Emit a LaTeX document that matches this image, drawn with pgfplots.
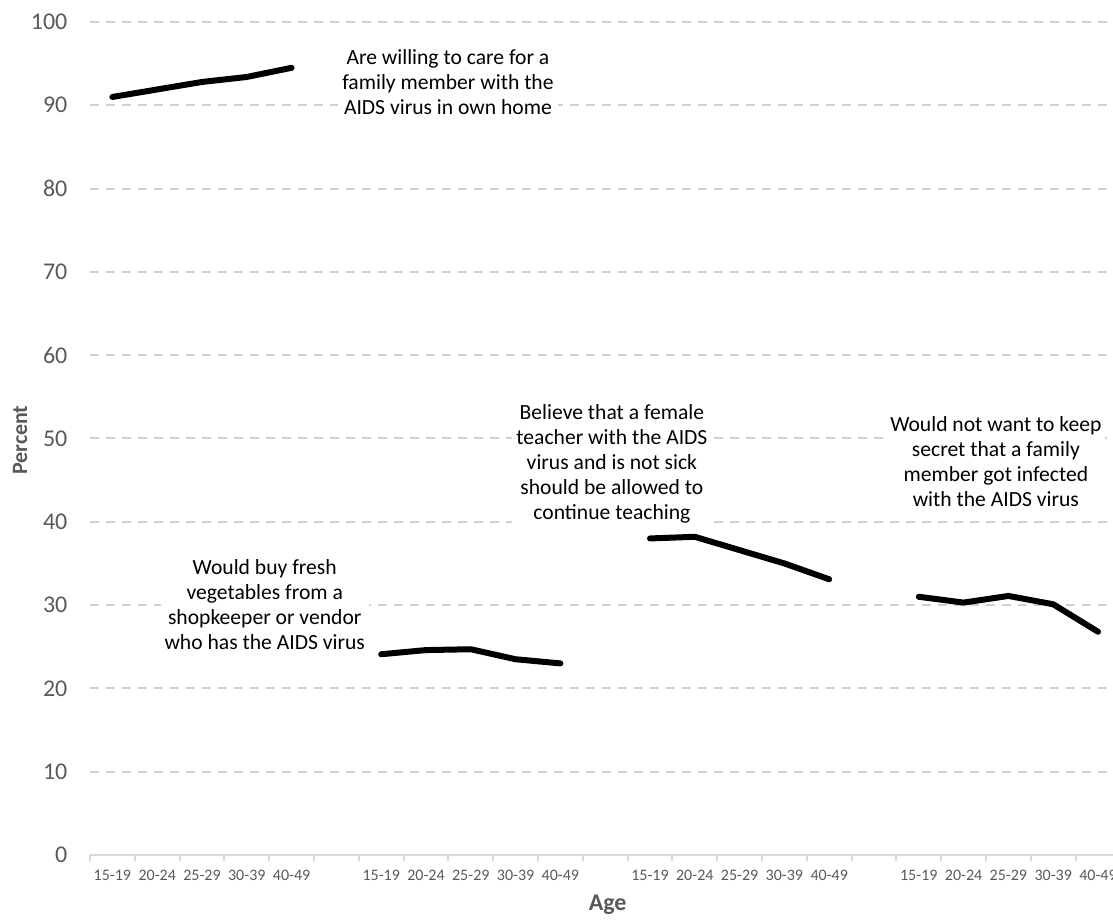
\documentclass[border=0pt]{standalone}
\usepackage{pgfplots}
\pgfplotsset{compat=1.18}
\usepackage{fontspec}
\setmainfont{Carlito}
\definecolor{lbl}{HTML}{595959}
\definecolor{gridc}{HTML}{D0D0D0}
\definecolor{axc}{HTML}{D9D9D9}
\begin{document}
\begin{tikzpicture}
\tikzset{dl/.style={black, line width=3pt, line join=round, line cap=round, mark=none}}
\begin{axis}[
  at={(0,0)}, anchor=south west,
  scale only axis,
  width=511.5pt, height=416.5pt,
  xmin=-0.5, xmax=22.335,
  ymin=0, ymax=100,
  axis lines*=left,
  y axis line style={draw=none},
  x axis line style={draw=axc, line width=1pt},
  ytick={0,10,...,100},
  ymajorgrids,
  grid style={draw=gridc, line width=1pt, dash pattern=on 4.5pt off 3.5pt},
  ytick style={draw=none},
  yticklabel style={font=\fontsize{12}{13}\selectfont, text=lbl, xshift=-3.5pt},
  /pgf/number format/assume math mode=true,
  xtick={0,...,22},
  xticklabels={15-19,20-24,25-29,30-39,40-49,,15-19,20-24,25-29,30-39,40-49,,15-19,20-24,25-29,30-39,40-49,,15-19,20-24,25-29,30-39,40-49},
  xticklabel style={font=\fontsize{8}{9}\selectfont, text=lbl, yshift=0pt},
  major x tick style={draw=none},
  minor xtick={-0.5,0.5,...,22.5},
  minor x tick style={draw=axc, line width=1pt},
  tick align=outside,
  minor tick length=3pt,
  xlabel={Age},
  ylabel={Percent},
  xlabel style={at={(axis description cs:0.506,-0.060)}, anchor=center, font=\fontsize{12}{14}\selectfont\bfseries, text=lbl},
  ylabel style={at={(axis description cs:-0.0684,0.498)}, anchor=center, font=\fontsize{11}{13}\selectfont\bfseries, text=lbl},
]
\addplot[dl] coordinates {(0,91.0) (1,91.9) (2,92.8) (3,93.4) (4,94.5)};
\addplot[dl] coordinates {(6,24.1) (7,24.6) (8,24.7) (9,23.5) (10,23.0)};
\addplot[dl] coordinates {(12,38.0) (13,38.2) (14,36.6) (15,35.0) (16,33.1)};
\addplot[dl] coordinates {(18,31.0) (19,30.3) (20,31.1) (21,30.1) (22,26.8)};
\tikzset{ann/.style={fill=white, align=center, inner sep=2pt, font=\fontsize{10.8}{12.5}\selectfont}}
\node[ann] at (axis cs:7.49,92.8) {Are willing to care for a\\family member with the\\AIDS virus in own home};
\node[ann] at (axis cs:3.4,30.1) {Would buy fresh\\vegetables from a\\shopkeeper or vendor\\who has the AIDS virus};
\node[ann] at (axis cs:11.15,46.9) {Believe that a female\\teacher with the AIDS\\virus and is not sick\\should be allowed to\\continue teaching};
\node[ann] at (axis cs:19.72,47.2) {Would not want to keep\\secret that a family\\member got infected\\with the AIDS virus};
\end{axis}
\pgfresetboundingbox
\path[use as bounding box] (-45pt,-32.5pt) rectangle (511.5pt,427.5pt);
\end{tikzpicture}
\end{document}
